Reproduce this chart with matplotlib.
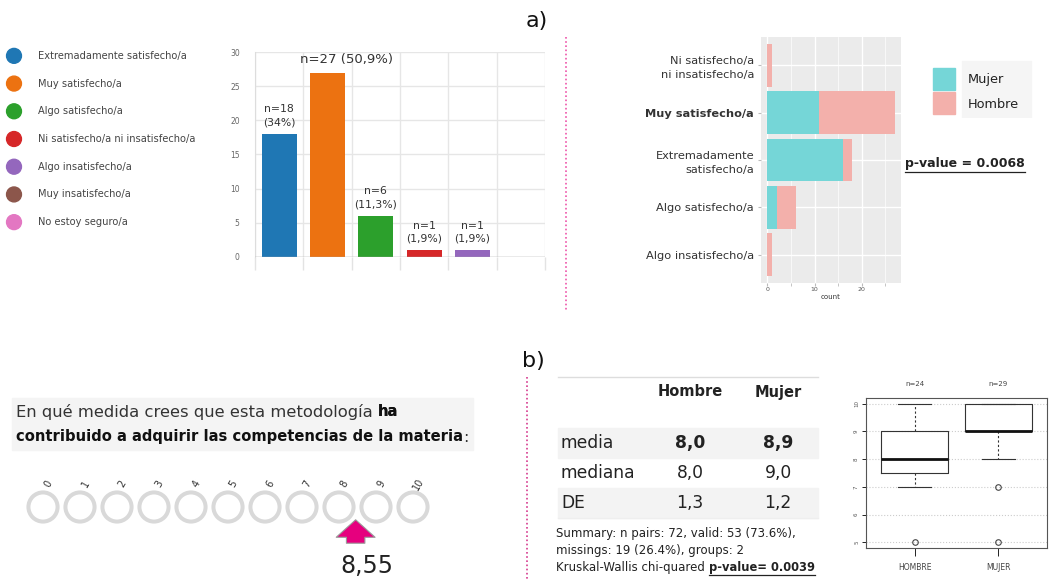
import numpy as np
import matplotlib
matplotlib.use("Agg")
import matplotlib.pyplot as plt
from matplotlib.patches import Rectangle
from matplotlib.lines import Line2D

plt.rcParams['font.family'] = ['DejaVu Sans']

# ---------------- data ----------------
cat_all = ['Extremadamente satisfecho/a', 'Muy satisfecho/a', 'Algo satisfecho/a',
           'Ni satisfecho/a ni insatisfecho/a', 'Algo insatisfecho/a',
           'Muy insatisfecho/a', 'No estoy seguro/a']
cat_colors = ['#1f77b4', '#ec7211', '#2ca02c', '#d62728', '#9467bd', '#8c564b', '#e377c2']
counts = [18, 27, 6, 1, 1, 0, 0]
bar_labels = ['n=18\n(34%)', 'n=27 (50,9%)', 'n=6\n(11,3%)', 'n=1\n(1,9%)', 'n=1\n(1,9%)', '', '']

gg_cats = ['Ni satisfecho/a\nni insatisfecho/a', 'Muy satisfecho/a',
           'Extremadamente\nsatisfecho/a', 'Algo satisfecho/a', 'Algo insatisfecho/a']
gg_mujer = [0, 11, 16, 2, 0]
gg_hombre = [1, 16, 2, 4, 1]
pval_a = 'p-value = 0.0068'

question1 = 'En qué medida crees que esta metodología '
question1b = 'ha'
question2 = 'contribuido a adquirir las competencias de la materia'
scale_vals = list(range(11))
mean_score = 8.55

tab_rows = ['media', 'mediana', 'DE']
tab_hombre = [8.0, 8.0, 1.3]
tab_mujer = [8.9, 9.0, 1.2]
summary_lines = ['Summary: n pairs: 72, valid: 53 (73.6%),',
                 'missings: 19 (26.4%), groups: 2']
kw_text = 'Kruskal-Wallis chi-quared '
pval_b = 'p-value= 0.0039'

box_groups = ['HOMBRE', 'MUJER']
box_n = [24, 29]
box_med = [8, 9]
box_q1 = [7.5, 9]
box_q3 = [9, 10]
box_lo = [7, 8]
box_hi = [10, 10]
box_out = [[5], [7, 5]]

# ---------------- figure ----------------
W, H = 1052, 579
fig = plt.figure(figsize=(W / 100, H / 100), dpi=100)


def px_axes(x0, y0, x1, y1):
    return fig.add_axes([x0 / W, 1 - y1 / H, (x1 - x0) / W, (y1 - y0) / H])


def fx(x):
    return x / W


def fy(y):
    return 1 - y / H


# legend column (top left)
lax = px_axes(0, 42, 230, 236)
lax.set_xlim(0, 230)
lax.set_ylim(6.5, -0.5)
lax.axis('off')
lax.scatter([14] * len(cat_all), range(len(cat_all)), s=115, c=cat_colors, zorder=3)
for i, c in enumerate(cat_all):
    lax.text(38, i, c, va='center', ha='left', fontsize=7.1, color='#444444')

# bar chart (top left)
bx = px_axes(255, 52, 545, 257)
x = np.arange(len(counts))
bx.bar(x, counts, width=0.72, color=cat_colors, zorder=3)
bx.set_xlim(-0.5, 5.5)
bx.set_ylim(0, 30)
bx.set_yticks(np.arange(0, 31, 5))
bx.tick_params(axis='y', length=0, labelsize=5.5, labelcolor='#666666', pad=11)
bx.set_xticks(np.arange(-0.5, 6, 1))
bx.set_xticklabels([])
bx.tick_params(axis='x', length=9, color='#e3e3e3', width=1)
bx.grid(True, color='#e6e6e6', lw=1, zorder=0)
for s in ['top', 'right', 'bottom']:
    bx.spines[s].set_visible(False)
bx.spines['left'].set_color('#dddddd')
bx.axhline(0, color='#aaaaaa', lw=1, zorder=4)
for i, (v, lab) in enumerate(zip(counts, bar_labels)):
    if lab:
        if i == 1:
            # the big label sits a bit to the right of its bar
            bx.text(i + 0.4, v + 1.0, lab, ha='center', va='bottom', fontsize=9.5,
                    color='#333333')
        else:
            bx.text(i, v + 1.0, lab, ha='center', va='bottom', fontsize=7.8,
                    color='#333333', linespacing=1.35)

# ggplot style stacked bars (top right)
gx = px_axes(761, 37, 901, 283)
gx.set_facecolor('#ebebeb')
yy = np.arange(len(gg_cats))
gx.barh(yy, gg_mujer, height=0.9, color='#75d6d7', zorder=3)
gx.barh(yy, gg_hombre, left=gg_mujer, height=0.9, color='#f3b0ab', zorder=3)
gx.set_ylim(len(gg_cats) - 0.4, -0.6)
gx.set_xlim(-1.35, 28.35)
gx.set_xticks([0, 10, 20])
gx.set_xticks([5, 15, 25], minor=True)
gx.grid(True, which='major', color='white', lw=1.0, zorder=0)
gx.grid(True, which='minor', axis='x', color='white', lw=0.5, zorder=0)
gx.set_yticks(yy)
gx.set_yticklabels(gg_cats, fontsize=8.2, color='#333333', ha='right', linespacing=1.45)
gx.get_yticklabels()[1].set_fontweight('bold')
gx.tick_params(axis='y', length=2, color='#bbbbbb', pad=3)
gx.tick_params(axis='x', which='both', length=2, color='#bbbbbb', labelsize=4.5,
               labelcolor='#555555', pad=1)
gx.set_xlabel('count', fontsize=5, color='#333333', labelpad=1)
for s in gx.spines.values():
    s.set_visible(False)

# ggplot legend
lg = px_axes(930, 60, 1035, 118)
lg.set_xlim(0, 105)
lg.set_ylim(58, 0)
lg.axis('off')
lg.add_patch(Rectangle((32, 1), 69, 56, color='#f5f5f5'))
lg.add_patch(Rectangle((3, 8), 22, 22, color='#75d6d7'))
lg.add_patch(Rectangle((3, 32), 22, 22, color='#f3b0ab'))
lg.text(38, 19, 'Mujer', va='center', fontsize=9.3, color='#222222')
lg.text(38, 44, 'Hombre', va='center', fontsize=9.3, color='#222222')

# p-value (a)
pt_a = fig.text(fx(905), fy(164), pval_a, fontsize=9, fontweight='bold',
                color='#222222', va='center')

# section labels and separators
fig.text(fx(526), fy(21), 'a)', fontsize=16, va='center',
         family=['Liberation Sans Narrow', 'DejaVu Sans'], color='#111111')
fig.text(fx(522), fy(361), 'b)', fontsize=16, va='center',
         family=['Liberation Sans Narrow', 'DejaVu Sans'], color='#111111')
fig.add_artist(Line2D([fx(566), fx(566)], [fy(37), fy(310)], ls=(0, (1, 1.5)),
                      color='#ee55aa', lw=1.2))
fig.add_artist(Line2D([fx(527), fx(527)], [fy(377), fy(579)], ls=(0, (1, 1.5)),
                      color='#d63b8f', lw=1.2))

# question box (bottom left)
fig.add_artist(Rectangle((fx(12), fy(450)), fx(461), 52 / H, transform=fig.transFigure,
                         color='#f4f4f4', zorder=0))
t1 = fig.text(fx(16), fy(412), question1, fontsize=11.8, color='#333333', va='center')
fig.add_artist(plt.annotate(question1b, xy=(1, 0.5), xycoords=t1, va='center', ha='left',
                            fontsize=10.6, fontweight='bold', color='#111111'))
t2 = fig.text(fx(16), fy(437), question2, fontsize=10.6, fontweight='bold',
              color='#111111', va='center')
plt.annotate(':', xy=(1, 0.5), xycoords=t2, va='center', ha='left', fontsize=11.8,
             color='#333333')

# rating scale
sx = px_axes(6, 460, 450, 579)
sx.set_xlim(-1, 11)
sx.set_ylim(119, 0)
sx.axis('off')
sx.scatter(scale_vals, [47] * len(scale_vals), s=440, facecolors='none',
           edgecolors='#d9d9d9', linewidths=2.9)
for v in scale_vals:
    sx.text(v + 0.15, 24, str(v), rotation=60, ha='center', va='center',
            fontsize=7, color='#333333')
sx.annotate('', xy=(mean_score - 0.1, 57), xytext=(mean_score - 0.1, 86),
            arrowprops=dict(arrowstyle='simple,head_length=0.9,head_width=2.0,tail_width=0.95',
                            fc='#e6007e', ec='#9a9a9a', lw=0.8, mutation_scale=14))
sx.text(mean_score + 0.2, 106, f'{mean_score:.2f}'.replace('.', ','), ha='center',
        va='center', fontsize=17, color='#222222')

# table (bottom right)
fig.add_artist(Line2D([fx(558), fx(818)], [fy(377), fy(377)], color='#dddddd', lw=1))
fig.text(fx(690), fy(392), 'Hombre', ha='center', va='center', fontsize=10.5,
         fontweight='bold', color='#222222')
fig.text(fx(778), fy(392), 'Mujer', ha='center', va='center', fontsize=10.5,
         fontweight='bold', color='#222222')
row_top = 428
row_h = 30
for i, (r, h, m) in enumerate(zip(tab_rows, tab_hombre, tab_mujer)):
    y0 = row_top + i * row_h
    if i % 2 == 0:
        fig.add_artist(Rectangle((fx(558), fy(y0 + row_h)), 260 / W, row_h / H,
                                 transform=fig.transFigure, color='#f3f3f3', zorder=0))
    w = 'bold' if i == 0 else 'normal'
    yc = fy(y0 + row_h / 2)
    fig.text(fx(561), yc, r, va='center', fontsize=12.3, color='#222222')
    fig.text(fx(690), yc, f'{h:.1f}'.replace('.', ','), ha='center', va='center',
             fontsize=12.3, fontweight=w, color='#222222')
    fig.text(fx(778), yc, f'{m:.1f}'.replace('.', ','), ha='center', va='center',
             fontsize=12.3, fontweight=w, color='#222222')
fig.add_artist(Line2D([fx(558), fx(818)], [fy(518), fy(518)], color='#eeeeee', lw=1))

for i, line in enumerate(summary_lines):
    fig.text(fx(556), fy(534 + 16.5 * i), line, va='center', fontsize=8.5, color='#222222')
t3 = fig.text(fx(556), fy(567), kw_text, va='center', fontsize=8.5, color='#222222')
t4 = plt.annotate(pval_b, xy=(1, 0.5), xycoords=t3, va='center', ha='left',
                  fontsize=8.3, fontweight='bold', color='#222222')

# boxplot (bottom right)
kx = px_axes(866, 398, 1047, 548)
stats = []
for i in range(len(box_groups)):
    stats.append(dict(med=box_med[i], q1=box_q1[i], q3=box_q3[i], whislo=box_lo[i],
                      whishi=box_hi[i], fliers=box_out[i], label=box_groups[i]))
kx.bxp(stats, positions=[1, 2], widths=0.8, capwidths=0.4, patch_artist=False,
       boxprops=dict(color='#333333', lw=0.8),
       whiskerprops=dict(color='#333333', lw=0.8, ls=(0, (2, 2))),
       capprops=dict(color='#333333', lw=0.8),
       medianprops=dict(color='#111111', lw=2),
       flierprops=dict(marker='o', markersize=4, markerfacecolor='none',
                       markeredgecolor='#444444', markeredgewidth=0.8))
kx.set_xlim(0.42, 2.58)
kx.set_ylim(4.8, 10.2)
kx.set_yticks(np.arange(5, 11))
kx.set_yticklabels([str(v) for v in range(5, 11)], rotation=90, fontsize=4,
                   color='#555555', va='center')
kx.yaxis.grid(True, ls=':', color='#cccccc', lw=0.8)
kx.tick_params(axis='y', length=3, width=0.6, pad=2)
kx.tick_params(axis='x', length=6, width=0.6, labelsize=5.5, labelcolor='#444444', pad=5)
for s in kx.spines.values():
    s.set_color('#555555')
    s.set_linewidth(0.8)
for i, n in enumerate(box_n):
    kx.text(i + 1, 10.2 + 0.5, f'n={n}', ha='center', va='center', fontsize=5,
            color='#444444', clip_on=False)

# underline the two p-values using their drawn extents
fig.canvas.draw()
r = fig.canvas.get_renderer()
for t, off in [(pt_a, 2), (t4, 1.5)]:
    bb = t.get_window_extent(r)
    yl = (bb.y0 - off) / H
    fig.add_artist(Line2D([bb.x0 / W, bb.x1 / W], [yl, yl], color='#222222', lw=0.9))

fig.savefig('out.png', dpi=100)
